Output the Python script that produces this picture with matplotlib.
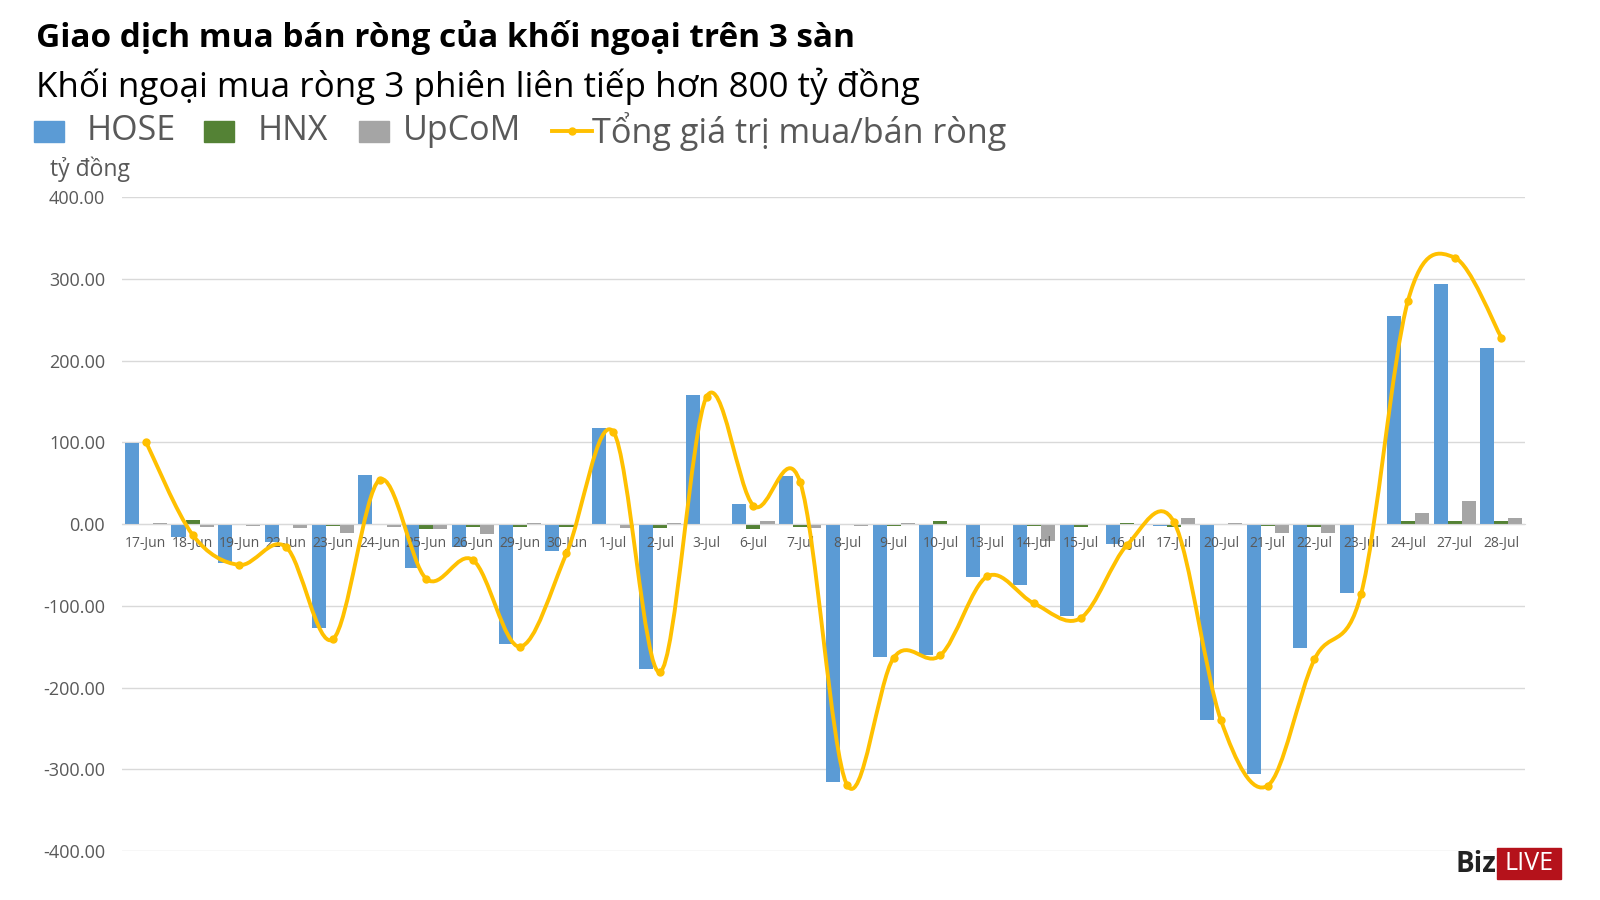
import matplotlib.pyplot as plt
from matplotlib.patches import Rectangle, PathPatch
from matplotlib.path import Path
from matplotlib.lines import Line2D

plt.rcParams['font.family'] = ['Open Sans', 'DejaVu Sans']

dates = ["17-Jun", "18-Jun", "19-Jun", "22-Jun", "23-Jun", "24-Jun", "25-Jun", "26-Jun",
         "29-Jun", "30-Jun", "1-Jul", "2-Jul", "3-Jul", "6-Jul", "7-Jul", "8-Jul",
         "9-Jul", "10-Jul", "13-Jul", "14-Jul", "15-Jul", "16-Jul", "17-Jul", "20-Jul",
         "21-Jul", "22-Jul", "23-Jul", "24-Jul", "27-Jul", "28-Jul"]
hose = [99, -15.5, -48, -22.5, -127, 60, -54, -28, -147, -33,
        117.5, -177, 158.5, 25, 59, -316, -163, -160, -65, -74,
        -112, -24.5, -2, -240, -306, -151, -84, 254.5, 293.5, 216]
hnx = [-1, 5, -1, -1, -2.5, -1.5, -5.5, -3, -3, -3,
       -1, -4.5, -1.5, -6, -3, -1, -2, 3.5, -0.5, -2,
       -3, 1, -3, -0.5, -2, -3.5, -1, 3.7, 3.7, 3.7]
upcom = [1, -3, -2, -4.5, -10.5, -3, -5.5, -12, 1, 0.5,
         -4.5, 1, -1.5, 3.5, -4.5, -2, 1, -0.5, 0.5, -20.5,
         -0.5, -1.5, 7, 1, -11.5, -10.5, 0, 13.5, 28, 7.5]
tong = [101, -13, -50, -28, -141, 54, -67, -44, -150, -36,
        113, -181, 156, 22.5, 51, -319, -163.5, -160.5, -64, -97,
        -115, -25, 2, -240, -320, -165.5, -85, 273, 326, 228]
yticks = [-400, -300, -200, -100, 0, 100, 200, 300, 400]

c_hose = "#5B9BD5"
c_hnx = "#548235"
c_upcom = "#A5A5A5"
c_line = "#FFC000"
c_text = "#595959"

fig = plt.figure(figsize=(16, 9), dpi=100)
ax = fig.add_axes([0.0765, 0.0544, 0.8765, 0.7266])

x = list(range(len(dates)))
w = 0.3
for v in yticks:
    ax.axhline(v, color="#D9D9D9", lw=1, zorder=0.5)
ax.bar([i - w for i in x], hose, width=w, color=c_hose, zorder=1)
ax.bar(x, hnx, width=w, color=c_hnx, zorder=1)
ax.bar([i + w for i in x], upcom, width=w, color=c_upcom, zorder=1)

# duong cong muot kieu Excel (bezier qua cac diem)
verts = [(x[0], tong[0])]
codes = [Path.MOVETO]
n = len(x)
for i in range(n - 1):
    p0 = (x[max(i - 1, 0)], tong[max(i - 1, 0)])
    p1 = (x[i], tong[i])
    p2 = (x[i + 1], tong[i + 1])
    p3 = (x[min(i + 2, n - 1)], tong[min(i + 2, n - 1)])
    c1 = (p1[0] + (p2[0] - p0[0]) / 6, p1[1] + (p2[1] - p0[1]) / 6)
    c2 = (p2[0] - (p3[0] - p1[0]) / 6, p2[1] - (p3[1] - p1[1]) / 6)
    verts += [c1, c2, p2]
    codes += [Path.CURVE4] * 3
ax.add_patch(PathPatch(Path(verts, codes), facecolor="none", edgecolor=c_line,
                       lw=2.8, zorder=3, capstyle="round", joinstyle="round"))
ax.plot(x, tong, linestyle="none", marker="o", markersize=5, color=c_line, zorder=4)

ax.set_xlim(-0.5, n - 0.5)
ax.set_ylim(-400, 400)
ax.set_yticks(yticks)
ax.set_yticklabels([f"{v:.2f}" for v in yticks])
ax.set_xticks(x)
ax.set_xticklabels(dates)
for s in ["top", "right", "left"]:
    ax.spines[s].set_visible(False)
ax.spines["bottom"].set_position(("data", 0))
ax.spines["bottom"].set_color("#D9D9D9")
ax.tick_params(axis="x", length=0, pad=8.5, labelsize=10, labelcolor=c_text)
ax.tick_params(axis="y", length=0, pad=12.5, labelsize=13, labelcolor=c_text)

# tieu de
fig.text(0.0225, 0.958, "Giao dịch mua bán ròng của khối ngoại trên 3 sàn",
         fontsize=24, fontweight="bold", va="center", ha="left")
fig.text(0.0225, 0.904, "Khối ngoại mua ròng 3 phiên liên tiếp hơn 800 tỷ đồng",
         fontsize=25.2, va="center", ha="left")
fig.text(0.031, 0.812, "tỷ đồng", fontsize=16.5, color=c_text, va="center", ha="left")

# chu thich
ly = 0.854
for x0, col, lab, tx in [(34, c_hose, "HOSE", 87), (204, c_hnx, "HNX", 258),
                         (359, c_upcom, "UpCoM", 403)]:
    fig.patches.append(Rectangle((x0 / 1600, ly - 10.5 / 900), 30 / 1600, 21 / 900,
                                 transform=fig.transFigure, color=col))
    fig.text(tx / 1600, ly, lab, fontsize=24.5, color=c_text, va="center", ha="left")
fig.lines.append(Line2D([552 / 1600, 592 / 1600], [ly, ly], transform=fig.transFigure,
                        color=c_line, lw=2.8))
fig.lines.append(Line2D([572 / 1600], [ly], transform=fig.transFigure, color=c_line,
                        marker="o", markersize=5))
fig.text(592 / 1600, ly, "Tổng giá trị mua/bán ròng", fontsize=24.7, color=c_text,
         va="center", ha="left")

# logo
fig.patches.append(Rectangle((1497 / 1600, 1 - 879 / 900), 64 / 1600, 31 / 900,
                             transform=fig.transFigure, color="#B5121B"))
fig.text(1496 / 1600, 1 - 864 / 900, "Biz", fontsize=20, fontweight="bold",
         color="#222222", va="center", ha="right")
fig.text(1529 / 1600, 1 - 864 / 900, "LIVE", fontsize=18, color="white",
         va="center", ha="center")

fig.savefig("out.png", dpi=100)
